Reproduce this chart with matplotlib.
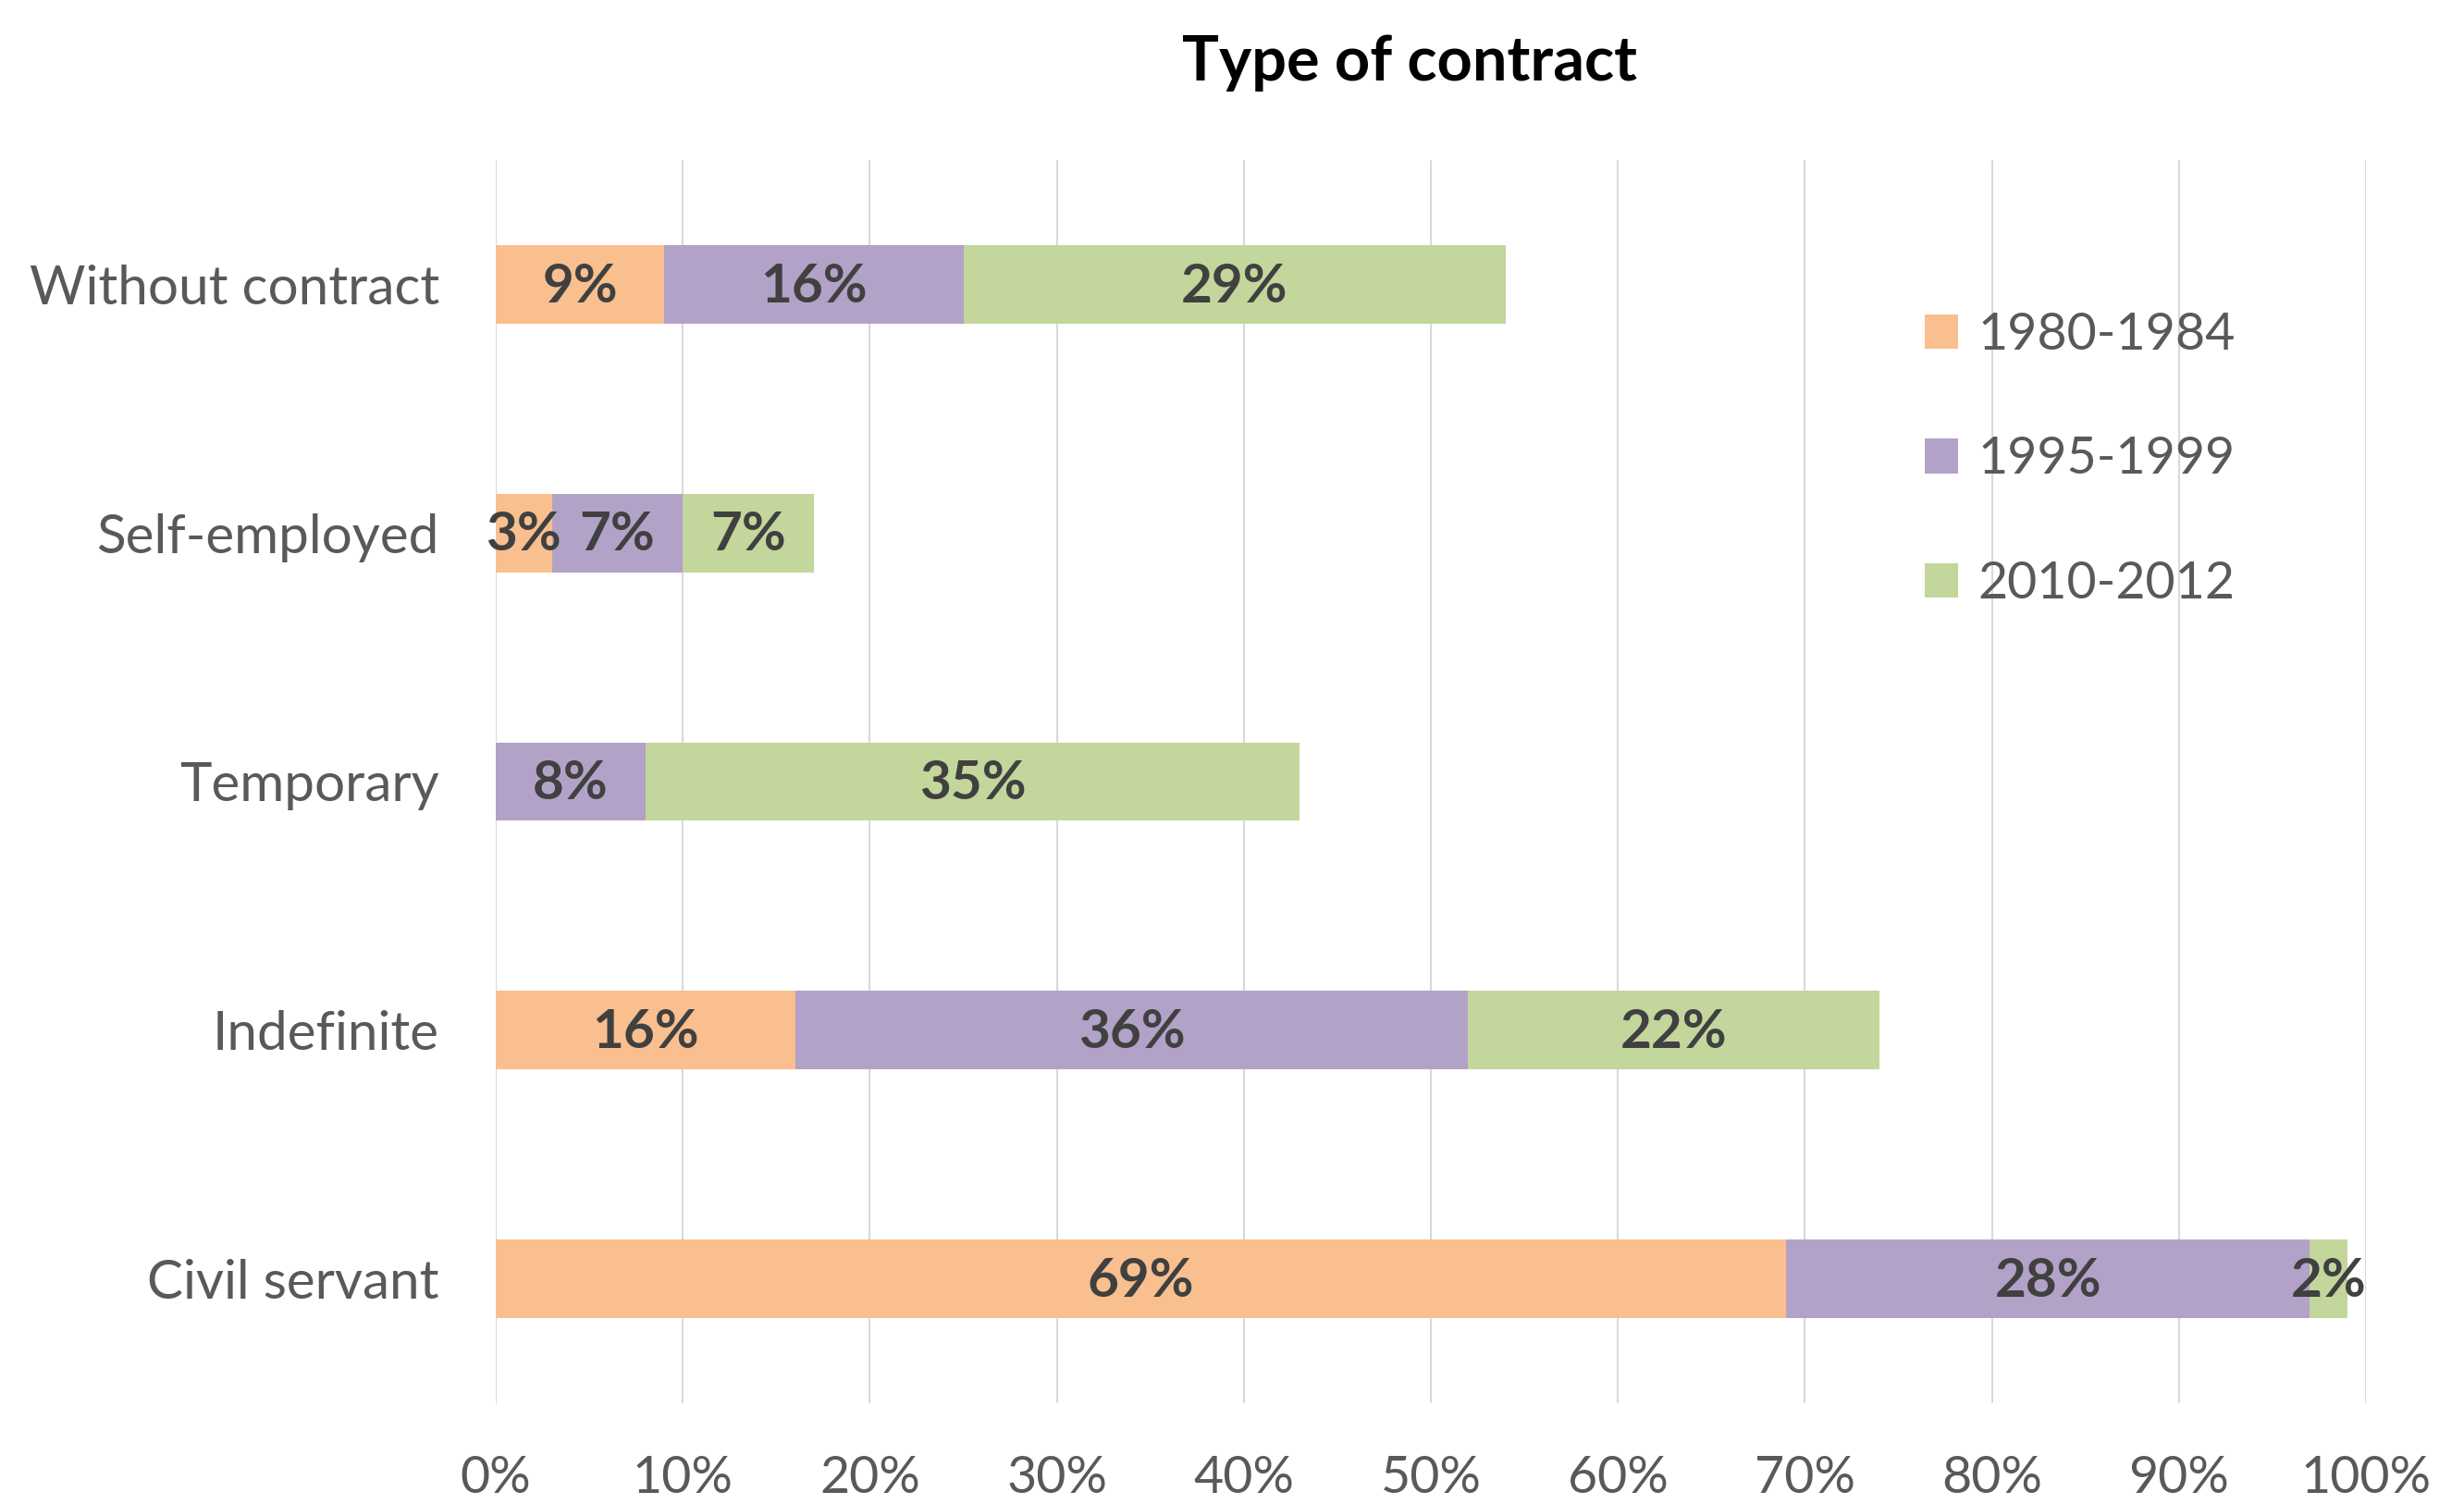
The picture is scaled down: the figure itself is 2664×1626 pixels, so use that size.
import matplotlib
matplotlib.use('Agg')
import matplotlib.pyplot as plt
from matplotlib.patches import Patch
import numpy as np

plt.rcParams['font.family'] = ['Lato', 'DejaVu Sans']

categories = ['Civil servant', 'Indefinite', 'Temporary', 'Self-employed', 'Without contract']
periods = ['1980-1984', '1995-1999', '2010-2012']
v_1980 = [69, 16, 0, 3, 9]
v_1995 = [28, 36, 8, 7, 16]
v_2010 = [2, 22, 35, 7, 29]
colors = ['#F9BF8F', '#B3A2C7', '#C3D69B']
ticks = [0, 10, 20, 30, 40, 50, 60, 70, 80, 90, 100]

fig = plt.figure(figsize=(26.64, 16.26), dpi=100)
ax = fig.add_axes([536 / 2664, 1 - 1517 / 1626, (2558 - 536) / 2664, (1517 - 173) / 1626])

y = np.arange(len(categories))
left = np.zeros(len(categories))
for vals, col in zip([v_1980, v_1995, v_2010], colors):
    vals = np.array(vals, dtype=float)
    ax.barh(y, vals, left=left, height=0.316, color=col, edgecolor='none', zorder=2)
    for yi, l, v in zip(y, left, vals):
        if v > 0:
            ax.text(l + v / 2, yi - 0.01, f'{v:.0f}%', ha='center', va='center',
                    fontsize=42, fontweight='bold', color='#404040', zorder=3)
    left += vals

ax.set_xlim(0, 100)
ax.set_ylim(-0.5, len(categories) - 0.5)
ax.set_xticks(ticks)
ax.set_xticklabels([f'{t}%' for t in ticks])
ax.set_yticks(y)
ax.set_yticklabels(categories)
ax.tick_params(axis='x', length=0, pad=40, labelsize=40, labelcolor='#595959')
ax.tick_params(axis='y', length=0, pad=44, labelsize=42, labelcolor='#595959')
ax.grid(axis='x', color='#D9D9D9', linewidth=1.5, zorder=0)
ax.set_axisbelow(True)
for s in ax.spines.values():
    s.set_visible(False)

fig.text(1524 / 2664, 1 - 68 / 1626, 'Type of contract', ha='center', va='center',
         fontsize=48, fontweight='bold', color='black')

handles = [Patch(facecolor=c, edgecolor='none') for c in colors]
fig.legend(handles, periods, loc='center left', bbox_to_anchor=(2081 / 2664, 1 - 497 / 1626),
           frameon=False, fontsize=40, labelcolor='#595959', borderpad=0, borderaxespad=0,
           handlelength=0.65, handleheight=0.65, handletextpad=0.38, labelspacing=1.5)

fig.savefig('out.png', dpi=100, facecolor='white')
